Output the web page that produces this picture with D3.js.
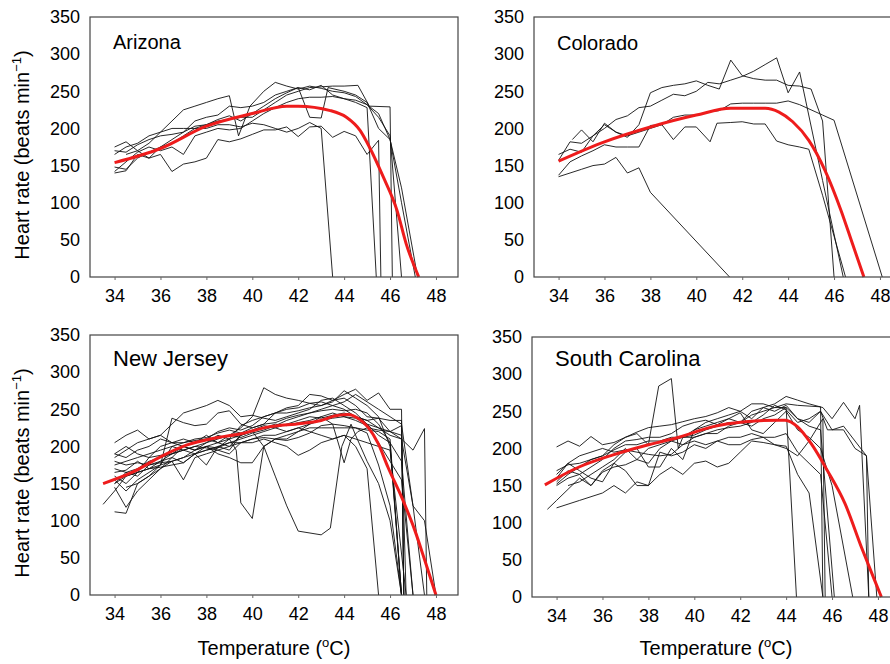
<!DOCTYPE html>
<html><head><meta charset="utf-8">
<script src="https://cdn.jsdelivr.net/npm/d3@7"></script>
<style>body{margin:0;background:#fff}svg{display:block}text{font-family:Arial,"Liberation Sans",sans-serif;fill:#000}</style>
</head><body>
<svg id="chart" width="890" height="664"></svg>
<script>
const panelNames = ["Arizona", "Colorado", "New Jersey", "South Carolina"];
const xTicks = [34, 36, 38, 40, 42, 44, 46, 48];
const yTicks = [0, 50, 100, 150, 200, 250, 300, 350];

const arizonaTraces = [
  [[34,175],[34.5,182],[35,170],[35.5,180],[36,195],[36.5,210],[37,225],[37.5,230],[38,235],[38.5,240],[39,244],[39.4,190],[39.9,230],[40.5,250],[41,262],[41.5,257],[42,253],[42.5,257],[43,254],[43.5,250],[44,248],[44.5,243],[45,232],[45.5,215],[46,190],[46.5,0]],
  [[34,140],[34.5,143],[35,165],[35.5,160],[36,165],[36.5,142],[37,152],[37.5,155],[38,160],[38.5,185],[39,182],[39.5,186],[40,192],[40.5,198],[41,198],[41.5,202],[42,189],[42.5,202],[43,203],[43.5,188],[44,196],[44.5,190],[45,165],[45.5,184],[45.6,0]],
  [[34,165],[34.5,175],[35,180],[35.5,190],[36,195],[36.5,200],[37,200],[37.5,200],[38,200],[38.5,205],[39,205],[39.5,202],[40,207],[40.5,205],[41,200],[41.5,195],[42,200],[42.5,208],[43,200],[43.5,0]],
  [[34,170],[34.5,168],[35,178],[35.5,185],[36,190],[36.5,192],[37,195],[37.5,203],[38,205],[38.5,210],[39,212],[39.5,215],[40,215],[40.5,225],[41,235],[41.5,245],[42,250],[42.5,255],[43,256],[43.5,257],[44,257],[44.6,258],[45.1,230],[46,229],[46.1,0]],
  [[34,148],[34.5,145],[35,160],[35.5,168],[36,175],[36.5,180],[37,190],[37.5,200],[38,205],[38.5,212],[39,217],[39.5,210],[40,220],[40.5,230],[41,240],[41.5,248],[42,255],[42.5,215],[43,214],[43.3,255],[44,250],[44.5,245],[45,235],[45.5,200],[46,185],[46.5,100],[47.1,0]],
  [[34,142],[34.5,155],[35,168],[35.5,175],[36,170],[36.5,175],[37,165],[37.5,190],[38,195],[38.5,200],[39,198],[39.5,200],[40,210],[40.5,220],[41,228],[41.5,235],[42,240],[42.5,242],[43,242],[43.5,243],[44,240],[44.5,238],[45,232],[45.5,220],[46,185],[46.5,120],[47.2,0]],
  [[34.5,165],[35,170],[35.5,160],[36,175],[36.5,185],[37,195],[37.5,210],[38,215],[38.5,218],[39,230],[39.5,228],[40,230],[40.5,235],[41,245],[41.5,250],[42,255],[42.5,252],[43,258],[43.5,245],[44,240],[44.5,235],[45,228],[45.4,0]]
];
const arizonaFit = [[34,154],[36,173],[38,203],[40,220],[41.5,230],[42,230],[43.4,224],[44.1,215],[44.7,197],[45.1,175],[45.7,135],[46.3,90],[46.7,45],[47.25,0]];

const coloradoTraces = [
  [[34,135],[34.5,140],[35,145],[35.5,150],[36,152],[36.5,161],[37,140],[37.5,147],[38,114],[41.45,0]],
  [[34,137],[34.5,155],[35,163],[35.5,170],[36,178],[36.5,175],[37,175],[37.5,175],[38,204],[38.5,205],[39,185],[39.5,202],[40,202],[40.6,182],[40.9,207],[41.5,208],[42,209],[42.5,206],[43,206],[43.5,183],[44,178],[44.5,175],[44.9,172],[45.5,110],[46.5,0]],
  [[34,165],[34.5,172],[35,168],[35.5,190],[36,205],[36.5,195],[37,190],[37.5,195],[38,200],[38.5,205],[39,215],[39.5,218],[40,218],[40.5,222],[41,224],[41.5,233],[42,234],[42.5,234],[43,234],[43.5,234],[44,237],[44.5,232],[45,225],[45.5,218],[46,211],[48.1,0]],
  [[34.6,185],[35,198],[35.5,182],[36,207],[36.5,195],[37,188],[37.5,205],[38,248],[38.5,255],[39,258],[39.5,260],[40,264],[40.5,258],[41,253],[41.5,292],[42,271],[42.5,267],[43,265],[43.5,265],[44,258],[44.5,257],[45,253],[45.5,210],[46,0]],
  [[34,157],[34.5,182],[35,180],[35.5,190],[36,200],[36.5,212],[37,217],[37.5,228],[38,230],[38.5,238],[39,246],[39.5,244],[40,250],[40.5,262],[41,260],[41.5,265],[42,270],[42.5,277],[43,286],[43.5,295],[44,248],[44.5,276],[45.5,130],[46.4,0]]
];
const coloradoFit = [[34,156],[36,182],[38,202],[40,218],[41.5,227],[43,227],[43.6,222],[44.2,209],[44.9,184],[45.6,144],[46.3,90],[46.8,45],[47.3,0]];

const newJerseyTraces = [
  [[34,205],[34.5,215],[35,222],[35.5,210],[36,215],[36.5,205],[37,200],[37.5,195],[38,200],[38.5,190],[39,185],[39.5,178],[40,178],[40.5,200],[41,210],[41.5,210],[42,220],[42.5,225],[43,225],[43.5,225],[44,225],[44.5,225],[45,222],[45.5,220],[46,210],[46.5,0]],
  [[34,180],[34.5,175],[35,178],[35.5,175],[36,180],[36.5,185],[37,200],[37.5,195],[38,205],[38.5,215],[39,210],[39.3,195],[39.5,124],[40,103],[40.5,200],[41,210],[41.5,215],[42,220],[42.5,230],[43,240],[43.5,245],[44,240],[44.5,238],[45,230],[45.5,225],[46,220],[46.5,215],[46.7,0]],
  [[34,190],[34.5,185],[35,195],[35.5,200],[36,210],[36.5,205],[37,210],[37.5,205],[38,215],[38.5,205],[39,210],[39.5,215],[40,220],[40.5,200],[41,160],[41.5,120],[42,86],[43,81],[43.4,90],[43.9,200],[44.3,230],[44.5,215],[45,180],[45.5,150],[46,100],[46.5,0]],
  [[34,112],[34.5,110],[35,150],[35.5,160],[36,175],[36.5,180],[37,185],[37.5,190],[38,195],[38.5,198],[39,205],[39.5,210],[40,215],[40.5,220],[41,225],[41.5,230],[42,235],[42.5,240],[43,238],[43.5,242],[44,245],[44.5,240],[45,235],[45.5,225],[46,215],[46.5,210],[47,195],[47.5,224],[47.6,0]],
  [[33.5,122],[34,140],[34.5,160],[35,165],[35.5,170],[36,180],[36.5,190],[37,195],[37.5,200],[38,205],[38.5,210],[39,215],[39.5,212],[40,218],[40.5,222],[41,228],[41.5,235],[42,240],[42.5,245],[43,250],[43.5,255],[44,260],[44.5,270],[45,260],[45.5,250],[46,240],[46.5,230],[47,120],[47.5,100],[48,0]],
  [[34,150],[34.5,165],[35,170],[35.5,180],[36,185],[36.5,190],[37,200],[37.5,205],[38,210],[38.5,205],[39,215],[39.5,225],[40,240],[40.5,279],[41,270],[41.5,265],[42,262],[42.5,258],[43,255],[43.5,260],[44,275],[44.5,265],[45,255],[45.5,240],[46,200],[46.5,0]],
  [[34,185],[34.5,195],[35,205],[35.5,210],[36,215],[36.5,230],[37,245],[37.5,250],[38,255],[38.5,262],[39,255],[39.5,240],[40,242],[40.5,238],[41,235],[41.5,240],[42,245],[42.5,250],[43,262],[43.5,265],[44,255],[44.5,245],[45,230],[45.5,215],[46,205],[46.5,0]],
  [[34,165],[34.5,168],[35,180],[35.5,170],[36,175],[36.5,238],[37,232],[37.5,228],[38,230],[38.5,245],[39,248],[39.5,230],[40,225],[40.5,230],[41,245],[41.5,252],[42,255],[42.5,270],[43,268],[43.5,262],[44,270],[44.5,277],[45,262],[45.5,272],[46,250],[46.5,250],[46.6,0]],
  [[34,145],[34.5,118],[35,140],[35.5,155],[36,170],[36.5,185],[37,178],[37.5,190],[38,195],[38.5,200],[39,205],[39.5,205],[40,210],[40.5,215],[41,215],[41.5,220],[42,225],[42.5,220],[43,215],[43.5,210],[44,215],[44.5,200],[45,170],[45.5,0]],
  [[34,170],[34.5,165],[35,160],[35.5,175],[36,178],[36.5,180],[37,155],[37.5,185],[38,190],[38.5,195],[39,200],[39.5,205],[40,205],[40.5,210],[41,205],[41.5,200],[42,188],[42.5,195],[43,205],[43.5,210],[44,215],[44.5,210],[45,205],[45.5,200],[46,195],[46.7,0]],
  [[34,160],[34.5,150],[35,165],[35.5,185],[36,200],[36.5,205],[37,205],[37.5,210],[38,212],[38.5,218],[39,222],[39.5,218],[40,225],[40.5,230],[41,232],[41.5,238],[42,242],[42.5,245],[43,248],[43.5,250],[44,248],[44.5,250],[45,245],[45.5,230],[46,205],[46.5,180],[47,0]],
  [[34,155],[34.5,140],[35,155],[35.5,165],[36,175],[36.5,200],[37,195],[37.5,190],[38,175],[38.5,200],[39,195],[39.5,215],[40,220],[40.5,225],[41,230],[41.5,228],[42,232],[42.5,235],[43,240],[43.5,230],[44,178],[44.3,210],[44.6,220],[45,225],[45.5,222],[46,220],[46.5,228],[46.6,0]],
  [[34,150],[34.5,160],[35,165],[35.5,170],[36,172],[36.5,175],[37,178],[37.5,190],[38,200],[38.5,205],[39,200],[39.5,215],[40,222],[40.5,228],[41,225],[41.5,220],[42,225],[42.5,230],[43,235],[43.5,238],[44,240],[44.5,235],[45,228],[45.5,205],[46,180],[46.5,155],[47,0]],
  [[34,175],[34.5,180],[35,185],[35.5,190],[36,195],[36.5,200],[37,205],[37.5,208],[38,210],[38.5,220],[39,225],[39.5,222],[40,228],[40.5,240],[41,245],[41.5,250],[42,252],[42.5,258],[43,260],[43.5,255],[44,250],[44.5,240],[45,235],[45.5,238],[46,235],[46.5,235],[46.6,0]],
  [[34,190],[34.5,200],[35,190],[35.5,185],[36,188],[36.5,190],[37,195],[37.5,200],[38,198],[38.5,195],[39,190],[39.5,205],[40,210],[40.5,212],[41,210],[41.5,208],[42,212],[42.5,218],[43,228],[43.5,230],[44,228],[44.5,225],[45,218],[45.5,175],[46,120],[46.5,0]],
  [[34.5,145],[35,150],[35.5,160],[36,170],[36.5,180],[37,185],[37.5,195],[38,200],[38.5,198],[39,210],[39.5,228],[40,235],[40.5,240],[41,245],[41.5,245],[42,248],[42.5,252],[43,255],[43.5,262],[44,265],[44.5,255],[45,240],[45.5,238],[46,220],[46.5,210],[47,120],[47.5,0]]
];
const newJerseyFit = [[33.5,150],[34.83,166],[36,186],[37.16,202],[38.33,211],[39.5,217],[40.66,226],[42.12,231],[43,235],[43.58,241],[44.16,243],[44.6,238],[45.04,226],[45.48,204],[45.91,172],[46.5,132],[47.08,87],[47.52,46],[48,0]];

const southCarolinaTraces = [
  [[34,202],[34.5,210],[35,203],[35.5,216],[36,205],[36.5,208],[37,215],[37.5,222],[38,228],[38.5,230],[39,232],[39.5,236],[40,240],[40.5,243],[41,248],[41.5,255],[42,250],[42.5,260],[43,260],[43.5,255],[44,260],[44.5,258],[45,257],[45.5,256],[45.6,0]],
  [[34,152],[34.5,165],[35,175],[35.5,185],[36,190],[36.5,205],[37,215],[37.5,220],[38,205],[38.45,284],[39,294],[39.3,200],[39.5,215],[40,225],[40.5,230],[41,235],[41.5,240],[42,235],[42.5,245],[43,250],[43.5,255],[44,255],[44.5,240],[45,235],[45.5,250],[46,225],[46.5,230],[47,210],[47.5,190],[47.6,0]],
  [[34,120],[34.5,125],[35,130],[35.5,135],[36,140],[36.5,150],[37,140],[37.5,155],[38,150],[38.5,165],[39,175],[39.5,165],[40,180],[40.5,183],[41,175],[41.5,180],[42,195],[42.5,210],[43,208],[43.5,205],[44,203],[44.5,165],[45,140],[45.6,0]],
  [[33.6,118],[34,130],[34.5,145],[35,160],[35.5,150],[36,170],[36.5,180],[37,170],[37.5,150],[38,150],[38.5,195],[39,190],[39.5,195],[40,205],[40.5,200],[41,210],[41.5,205],[42,205],[42.5,212],[43,215],[43.5,215],[44,220],[44.5,195],[45,180],[45.5,165],[46,0]],
  [[34,160],[34.5,180],[35,170],[35.5,160],[36,155],[36.5,180],[37,195],[37.5,200],[38,175],[38.5,175],[39,200],[39.5,185],[40,225],[40.5,235],[41,240],[41.5,245],[42,250],[42.5,240],[43,255],[43.5,260],[44,270],[44.5,265],[45,260],[45.6,255],[46,240],[46.5,262],[47,240],[47.2,258],[47.6,0]],
  [[34,155],[34.5,170],[35,165],[35.5,175],[36,185],[36.5,200],[37,210],[37.5,212],[38,215],[38.5,215],[39,220],[39.5,230],[40,235],[40.5,238],[41,232],[41.5,240],[42,248],[42.5,225],[43,220],[43.5,235],[44,250],[44.5,225],[45,215],[45.5,200],[46,150],[46.9,0]],
  [[34,170],[34.5,178],[35,180],[35.5,185],[36,190],[36.5,198],[37,205],[37.5,205],[38,210],[38.5,210],[39,215],[39.5,215],[40,218],[40.5,225],[41,230],[41.5,235],[42,235],[42.5,230],[43,240],[43.5,245],[44,255],[44.45,0]],
  [[34,165],[34.5,180],[35,190],[35.5,195],[36,200],[36.5,195],[37,198],[37.5,195],[38,192],[38.5,190],[39,192],[39.5,205],[40,210],[40.5,205],[41,210],[41.5,215],[42,215],[42.5,220],[43,215],[43.5,205],[44,200],[44.5,190],[45,210],[45.6,240],[45.7,0]],
  [[34.5,150],[35,155],[35.5,165],[36,175],[36.5,185],[37,200],[37.5,185],[38,180],[38.5,200],[39,210],[39.5,205],[40,215],[40.5,220],[41,220],[41.5,230],[42,235],[42.5,250],[43,255],[43.5,250],[44,258],[44.5,240],[45,230],[45.5,225],[46.1,0]],
  [[34,150],[34.5,160],[35,165],[35.5,150],[36,168],[36.5,175],[37,178],[37.5,185],[38,200],[38.5,205],[39,210],[39.5,215],[40,215],[40.5,220],[41,225],[41.5,228],[42,230],[42.5,235],[43,245],[43.5,258],[44,252],[44.5,235],[45,240],[45.5,250],[45.8,225],[46.5,225],[47,200],[47.5,190],[47.95,0]]
];
const southCarolinaFit = [[33.49,151],[34.98,175],[36.43,191],[37.88,204],[39.33,215],[40.77,229],[42.22,236],[43.67,238],[43.96,238],[44.5,229],[45.1,206],[45.8,170],[46.56,126],[47.28,67],[47.86,22],[48.15,0]];

const tracesByPanel = [arizonaTraces, coloradoTraces, newJerseyTraces, southCarolinaTraces];
const fitsByPanel = [arizonaFit, coloradoFit, newJerseyFit, southCarolinaFit];

const panels = [
  {left: 90, top: 17, labelSize: 20, labelY: 49},
  {left: 534, top: 17, labelSize: 20, labelY: 50},
  {left: 90, top: 335, labelSize: 22, labelY: 366},
  {left: 532, top: 337, labelSize: 22, labelY: 366}
];
const W = 368, H = 260;
const svg = d3.select("#chart");

panels.forEach((p, i) => {
  const x = d3.scaleLinear().domain([32.93, 48.96]).range([p.left, p.left + W]);
  const y = d3.scaleLinear().domain([0, 350]).range([p.top + H, p.top]);
  const g = svg.append("g");

  // traces
  const line = d3.line().x(d => x(d[0])).y(d => y(d[1]));
  g.selectAll("path.trace").data(tracesByPanel[i]).enter().append("path")
    .attr("class", "trace").attr("d", line)
    .attr("fill", "none").attr("stroke", "#111").attr("stroke-width", 0.9)
    .attr("stroke-linejoin", "miter");

  // fit
  const fitLine = d3.line().x(d => x(d[0])).y(d => y(d[1])).curve(d3.curveMonotoneX);
  g.append("path").attr("d", fitLine(fitsByPanel[i]))
    .attr("fill", "none").attr("stroke", "#ee1c1c").attr("stroke-width", 3);

  // frame
  g.append("rect").attr("x", p.left).attr("y", p.top).attr("width", W).attr("height", H)
    .attr("fill", "none").attr("stroke", "#444").attr("stroke-width", 1.2);

  // x axis
  const xa = g.append("g").attr("transform", `translate(0,${p.top + H})`)
    .call(d3.axisBottom(x).tickValues(xTicks).tickSize(3).tickPadding(9).tickFormat(d3.format("d")));
  xa.select(".domain").remove();
  xa.selectAll("line").attr("stroke", "#666");
  xa.selectAll("text").attr("font-size", 18).attr("font-family", "Arial, 'Liberation Sans', sans-serif").attr("fill", "#000");

  // y axis
  const ya = g.append("g").attr("transform", `translate(${p.left},0)`)
    .call(d3.axisLeft(y).tickValues(yTicks).tickSize(0).tickPadding(10).tickFormat(d3.format("d")));
  ya.select(".domain").remove();
  ya.selectAll("text").attr("font-size", 18).attr("font-family", "Arial, 'Liberation Sans', sans-serif").attr("fill", "#000");

  // panel label
  g.append("text").attr("x", p.left + 23).attr("y", p.labelY)
    .attr("font-size", p.labelSize).text(panelNames[i]);

  // y title on left panels
  if (i % 2 === 0) {
    const cy = p.top + H / 2 + 8;
    const t = g.append("text").attr("transform", `translate(29,${cy}) rotate(-90)`)
      .attr("text-anchor", "middle").attr("font-size", 20);
    t.append("tspan").text("Heart rate (beats min");
    t.append("tspan").attr("font-size", 13).attr("dy", -8).text("\u22121");
    t.append("tspan").attr("dy", 8).text(")");
  }
  // x title on bottom panels
  if (i >= 2) {
    const t = g.append("text").attr("x", p.left + W / 2).attr("y", 655)
      .attr("text-anchor", "middle").attr("font-size", 20);
    t.append("tspan").text("Temperature (");
    t.append("tspan").attr("font-size", 13).attr("dy", -8).text("o");
    t.append("tspan").attr("dy", 8).text("C)");
  }
});
</script>
</body></html>
